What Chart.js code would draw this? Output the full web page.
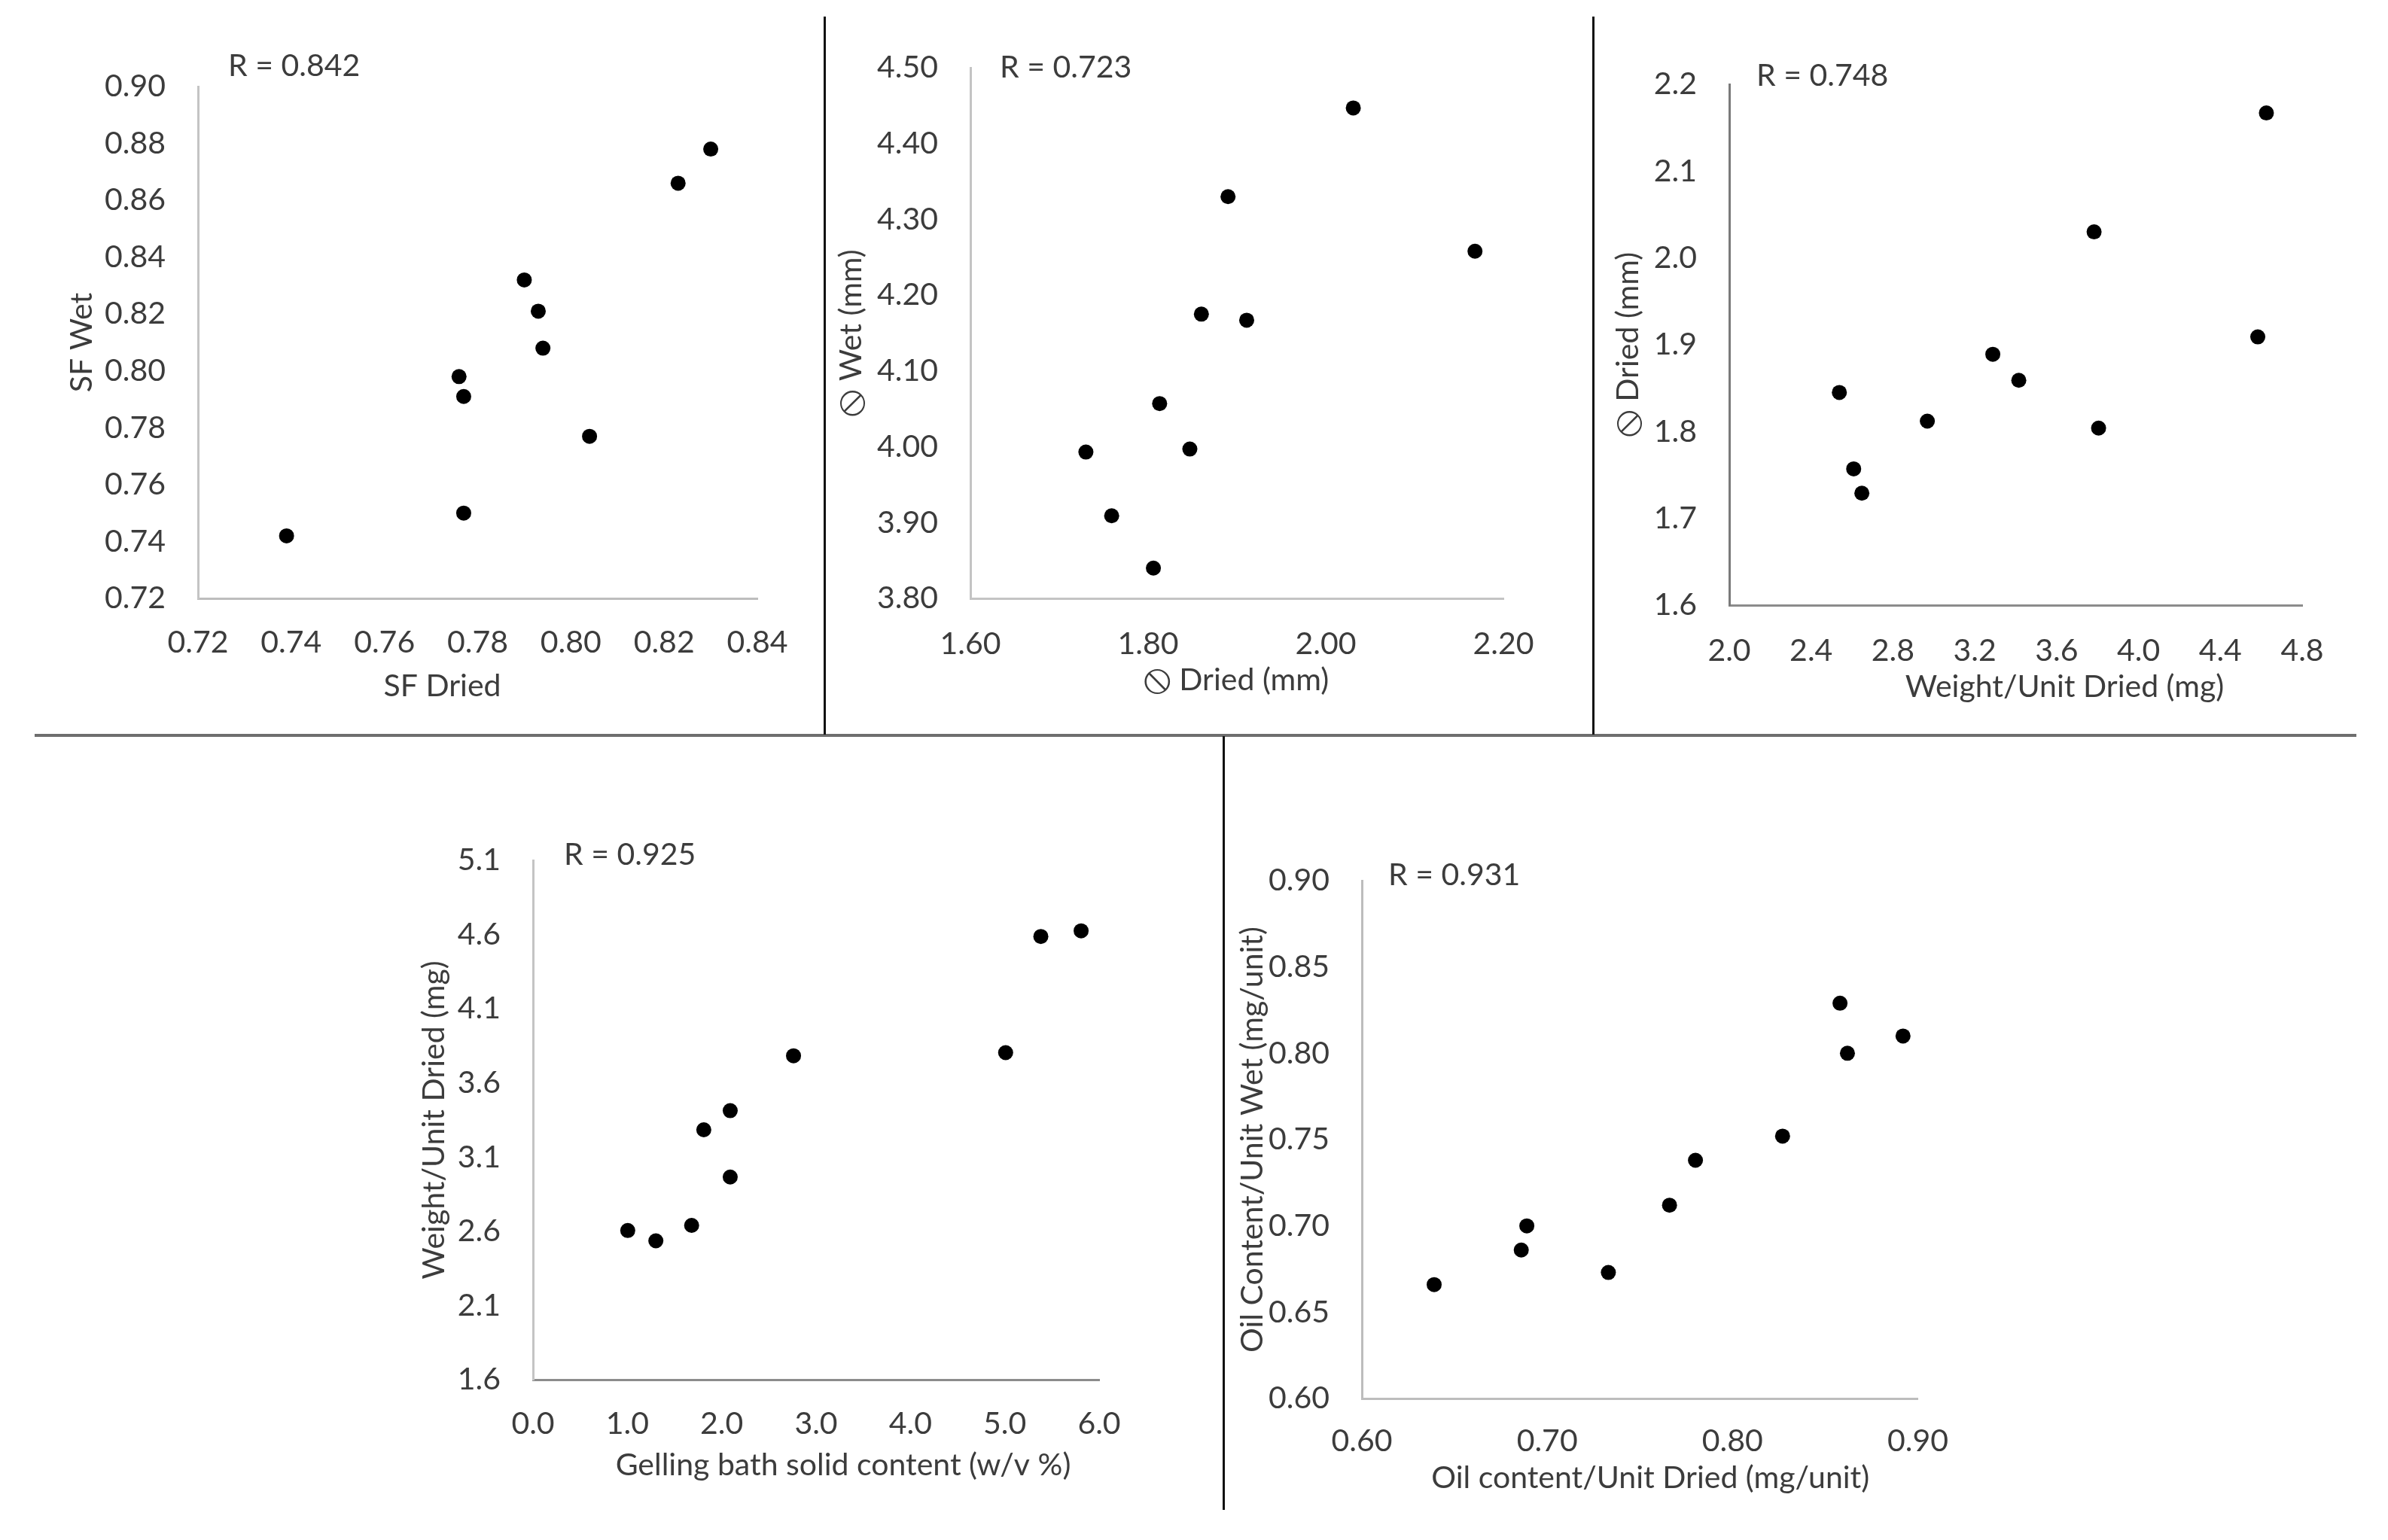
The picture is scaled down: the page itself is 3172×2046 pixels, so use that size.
<!DOCTYPE html>
<html>
<head>
<meta charset="utf-8">
<title>Scatter panels</title>
<script src="https://cdn.jsdelivr.net/npm/chart.js@4.4.1/dist/chart.umd.min.js"></script>
<style>
  html, body { margin: 0; padding: 0; background: #fff; }
  body { width: 3172px; height: 2046px; position: relative; overflow: hidden; }
  canvas { position: absolute; }
  .rule { position: absolute; background: #111; }
</style>
</head>
<body>
<div class="rule" style="left:46px; top:975px; width:3084px; height:4px; background:#6e6e6e"></div>
<div class="rule" style="left:1094px; top:22px; width:3px; height:954px"></div>
<div class="rule" style="left:2115px; top:22px; width:3px; height:954px"></div>
<div class="rule" style="left:1624px; top:978px; width:3px; height:1028px"></div>

<canvas id="sf-chart"></canvas>
<canvas id="diam-chart"></canvas>
<canvas id="weight-diam-chart"></canvas>
<canvas id="gelling-chart"></canvas>
<canvas id="oil-chart"></canvas>

<script>
// SF dried vs SF wet
const sf_dried = [0.739, 0.777, 0.776, 0.777, 0.790, 0.793, 0.794, 0.804, 0.823, 0.830];
const sf_wet   = [0.742, 0.750, 0.798, 0.791, 0.832, 0.821, 0.808, 0.777, 0.866, 0.878];
const sf_x_ticks = [0.72, 0.74, 0.76, 0.78, 0.80, 0.82, 0.84];
const sf_y_ticks = [0.72, 0.74, 0.76, 0.78, 0.80, 0.82, 0.84, 0.86, 0.88, 0.90];

// diameter dried vs diameter wet (mm)
const diam_dried = [1.730, 1.759, 1.806, 1.813, 1.847, 1.860, 1.911, 1.890, 2.031, 2.168];
const diam_wet   = [3.993, 3.909, 3.840, 4.057, 3.997, 4.175, 4.167, 4.330, 4.447, 4.258];
const diam_x_ticks = [1.60, 1.80, 2.00, 2.20];
const diam_y_ticks = [3.80, 3.90, 4.00, 4.10, 4.20, 4.30, 4.40, 4.50];

// weight/unit dried (mg) vs diameter dried (mm)
const wd_weight = [2.538, 2.608, 2.648, 2.968, 3.288, 3.415, 3.783, 3.805, 4.583, 4.625];
const wd_diam   = [1.845, 1.757, 1.729, 1.812, 1.889, 1.859, 2.030, 1.804, 1.909, 2.167];
const wd_x_ticks = [2.0, 2.4, 2.8, 3.2, 3.6, 4.0, 4.4, 4.8];
const wd_y_ticks = [1.6, 1.7, 1.8, 1.9, 2.0, 2.1, 2.2];

// gelling bath solid content (w/v %) vs weight/unit dried (mg)
const gel_solid  = [1.004, 1.302, 1.681, 1.810, 2.090, 2.090, 2.761, 5.009, 5.382, 5.809];
const gel_weight = [2.605, 2.536, 2.640, 3.284, 3.413, 2.966, 3.783, 3.804, 4.587, 4.625];
const gel_x_ticks = [0.0, 1.0, 2.0, 3.0, 4.0, 5.0, 6.0];
const gel_y_ticks = [1.6, 2.1, 2.6, 3.1, 3.6, 4.1, 4.6, 5.1];

// oil content/unit dried vs wet (mg/unit)
const oil_dried = [0.639, 0.686, 0.689, 0.733, 0.766, 0.780, 0.827, 0.858, 0.862, 0.892];
const oil_wet   = [0.666, 0.686, 0.700, 0.673, 0.712, 0.738, 0.752, 0.829, 0.800, 0.810];
const oil_x_ticks = [0.60, 0.70, 0.80, 0.90];
const oil_y_ticks = [0.60, 0.65, 0.70, 0.75, 0.80, 0.85, 0.90];

const FONT_FAMILY = "Lato, 'DejaVu Sans', sans-serif";
const FONT_SIZE = 41;
const TEXT_COLOR = '#3c3c3c';
const DIAM = '\u29B8';
const DIAM_FONT = "56px 'DejaVu Sans', sans-serif";

Chart.defaults.font.family = FONT_FAMILY;
Chart.defaults.font.size = FONT_SIZE;
Chart.defaults.color = TEXT_COLOR;

// centred text; a leading diameter sign is drawn larger, as in the original
function drawLabel(ctx, text, x, y) {
  const base = FONT_SIZE + 'px ' + FONT_FAMILY;
  ctx.textAlign = 'left';
  if (text.startsWith(DIAM)) {
    const rest = text.slice(1);
    ctx.font = DIAM_FONT;
    const wSym = ctx.measureText(DIAM).width;
    ctx.font = base;
    const wRest = ctx.measureText(rest).width;
    const x0 = x - (wSym + wRest) / 2;
    ctx.font = DIAM_FONT;
    ctx.fillText(DIAM, x0, y + 1);
    ctx.font = base;
    ctx.fillText(rest, x0 + wSym, y);
  } else {
    ctx.font = base;
    ctx.textAlign = 'center';
    ctx.fillText(text, x, y);
  }
}

// draws the R value and the two axis titles relative to the chart area
const panelText = {
  id: 'panelText',
  afterDraw(chart, args, opts) {
    const { ctx, chartArea: a } = chart;
    ctx.save();
    ctx.font = FONT_SIZE + 'px ' + FONT_FAMILY;
    ctx.fillStyle = TEXT_COLOR;
    ctx.textBaseline = 'middle';

    ctx.textAlign = 'left';
    ctx.fillText(opts.r, a.left + opts.rPos[0], a.top + opts.rPos[1]);

    drawLabel(ctx, opts.xTitle, (a.left + a.right) / 2 + opts.xPos[0], a.bottom + opts.xPos[1]);

    ctx.translate(a.left + opts.yPos, (a.top + a.bottom) / 2);
    ctx.rotate(-Math.PI / 2);
    drawLabel(ctx, opts.yTitle, 0, 0);
    ctx.restore();
  }
};

function makePanel(id, cfg) {
  const canvas = document.getElementById(id);
  const box = cfg.box, area = cfg.area;
  canvas.width = box.w;
  canvas.height = box.h;
  canvas.style.left = box.x + 'px';
  canvas.style.top = box.y + 'px';
  canvas.style.width = box.w + 'px';
  canvas.style.height = box.h + 'px';

  const yAxisW = area.l - box.x;
  const xAxisH = box.y + box.h - area.b;

  const points = cfg.xs.map((x, i) => ({ x: x, y: cfg.ys[i] }));

  const axis = (ticks, decimals, color, size, padding) => ({
    type: 'linear',
    min: ticks[0],
    max: ticks[ticks.length - 1],
    grid: { display: false, drawTicks: false },
    border: { display: true, color: color, width: 3 },
    afterBuildTicks: s => { s.ticks = ticks.map(v => ({ value: v })); },
    afterFit: s => {
      if (s.isHorizontal()) s.height = size; else s.width = size;
    },
    ticks: {
      autoSkip: false,
      maxRotation: 0,
      padding: padding,
      callback: v => Number(v).toFixed(decimals)
    }
  });

  return new Chart(canvas.getContext('2d'), {
    type: 'scatter',
    data: {
      datasets: [{
        data: points,
        backgroundColor: '#000',
        borderWidth: 0,
        pointRadius: 10,
        pointHoverRadius: 10
      }]
    },
    options: {
      responsive: false,
      animation: false,
      devicePixelRatio: 1,
      layout: {
        padding: { top: area.t - box.y, right: box.x + box.w - area.r, left: 0, bottom: 0 }
      },
      scales: {
        x: axis(cfg.xTicks, cfg.xDec, cfg.xAxisColor, xAxisH, cfg.xPad),
        y: axis(cfg.yTicks, cfg.yDec, cfg.yAxisColor, yAxisW, 43)
      },
      plugins: {
        legend: { display: false },
        tooltip: { enabled: false },
        panelText: cfg.text
      }
    },
    plugins: [panelText]
  });
}

const sf_chart = makePanel('sf-chart', {
  box: { x: 50, y: 20, w: 1040, h: 950 },
  area: { l: 263, t: 115, r: 1006, b: 795 },
  xs: sf_dried, ys: sf_wet,
  xTicks: sf_x_ticks, yTicks: sf_y_ticks, xDec: 2, yDec: 2,
  xAxisColor: '#bdbdbd', yAxisColor: '#c4c4c4', xPad: 34,
  text: { r: 'R = 0.842', rPos: [40, -27], xTitle: 'SF Dried', xPos: [-47, 117], yTitle: 'SF Wet', yPos: -154 }
});

const diam_chart = makePanel('diam-chart', {
  box: { x: 1100, y: 20, w: 1010, h: 950 },
  area: { l: 1289, t: 90, r: 1997, b: 795 },
  xs: diam_dried, ys: diam_wet,
  xTicks: diam_x_ticks, yTicks: diam_y_ticks, xDec: 2, yDec: 2,
  xAxisColor: '#c4c4c4', yAxisColor: '#c4c4c4', xPad: 36,
  text: { r: 'R = 0.723', rPos: [39, 0], xTitle: DIAM + ' Dried (mm)', xPos: [-1, 109], yTitle: DIAM + ' Wet (mm)', yPos: -158 }
});

const wd_chart = makePanel('weight-diam-chart', {
  box: { x: 2125, y: 20, w: 1035, h: 950 },
  area: { l: 2297, t: 112, r: 3058, b: 804 },
  xs: wd_weight, ys: wd_diam,
  xTicks: wd_x_ticks, yTicks: wd_y_ticks, xDec: 1, yDec: 1,
  xAxisColor: '#8c8c8c', yAxisColor: '#7a7a7a', xPad: 36,
  text: { r: 'R = 0.748', rPos: [36, -11], xTitle: 'Weight/Unit Dried (mg)', xPos: [65, 109], yTitle: DIAM + ' Dried (mm)', yPos: -134 }
});

const gel_chart = makePanel('gelling-chart', {
  box: { x: 480, y: 985, w: 1140, h: 1055 },
  area: { l: 708, t: 1143, r: 1460, b: 1833 },
  xs: gel_solid, ys: gel_weight,
  xTicks: gel_x_ticks, yTicks: gel_y_ticks, xDec: 1, yDec: 1,
  xAxisColor: '#8c8c8c', yAxisColor: '#c4c4c4', xPad: 34,
  text: { r: 'R = 0.925', rPos: [41, -7], xTitle: 'Gelling bath solid content (w/v %)', xPos: [36, 114], yTitle: 'Weight/Unit Dried (mg)', yPos: -131 }
});

const oil_chart = makePanel('oil-chart', {
  box: { x: 1635, y: 985, w: 985, h: 1055 },
  area: { l: 1809, t: 1170, r: 2557, b: 1858 },
  xs: oil_dried, ys: oil_wet,
  xTicks: oil_x_ticks, yTicks: oil_y_ticks, xDec: 2, yDec: 2,
  xAxisColor: '#bdbdbd', yAxisColor: '#bdbdbd', xPad: 32,
  text: { r: 'R = 0.931', rPos: [35, -7], xTitle: 'Oil content/Unit Dried (mg/unit)', xPos: [14, 106], yTitle: 'Oil Content/Unit Wet (mg/unit)', yPos: -145 }
});
</script>
</body>
</html>
